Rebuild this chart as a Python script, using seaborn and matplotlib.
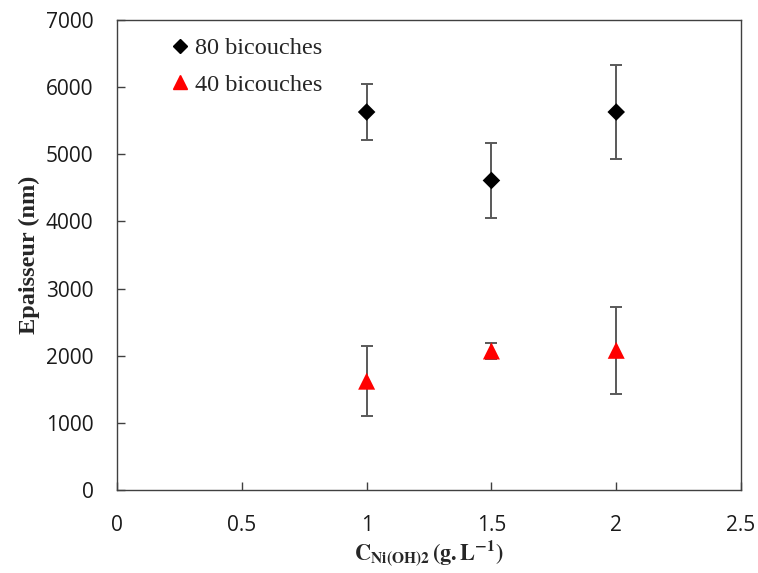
import matplotlib.pyplot as plt
import seaborn as sns
import pandas as pd
from matplotlib.lines import Line2D

conc = [1.0, 1.5, 2.0]
ep80 = [5630, 4610, 5630]
err80 = [410, 560, 700]
ep40 = [1620, 2070, 2080]
err40 = [520, 120, 645]

df = pd.DataFrame({
    'conc': conc + conc,
    'ep': ep80 + ep40,
    'err': err80 + err40,
    'serie': ['80 bicouches'] * 3 + ['40 bicouches'] * 3,
})

sns.set_style('ticks')
plt.rcParams['mathtext.fontset'] = 'stix'

fig = plt.figure(figsize=(7.58, 5.73), dpi=100)
ax = fig.add_axes([0.1544, 0.145, 0.8232, 0.82])

for s in df['serie'].unique():
    d = df[df['serie'] == s]
    ax.errorbar(d['conc'], d['ep'], yerr=d['err'], fmt='none', ecolor='#595959',
                elinewidth=1.4, capsize=4.5, capthick=1.4, zorder=1)

sns.scatterplot(data=df, x='conc', y='ep', hue='serie', style='serie', size='serie',
                palette={'80 bicouches': 'black', '40 bicouches': 'red'},
                markers={'80 bicouches': 'D', '40 bicouches': '^'},
                sizes={'80 bicouches': 80, '40 bicouches': 150},
                edgecolor='none', ax=ax, zorder=3, legend=False)

# legend handles drawn smaller, like the original
handles = [Line2D([], [], ls='none', marker='D', color='black', markersize=7.5),
           Line2D([], [], ls='none', marker='^', color='red', markersize=10)]
ax.legend(handles, ['80 bicouches', '40 bicouches'], loc='upper left',
          bbox_to_anchor=(0.043, 1.01), frameon=False,
          prop={'family': 'Liberation Serif', 'size': 17.5},
          handletextpad=0.0, handlelength=1.2, labelspacing=0.6)

ax.set_xlim(0, 2.5)
ax.set_ylim(0, 7000)
ax.set_xticks([0, 0.5, 1, 1.5, 2, 2.5])
ax.set_xticklabels(['0', '0.5', '1', '1.5', '2', '2.5'])
ax.set_yticks(range(0, 7001, 1000))
for lab in ax.get_xticklabels() + ax.get_yticklabels():
    lab.set_fontfamily('Open Sans')
    lab.set_fontsize(15)
    lab.set_color('#1a1a1a')
ax.tick_params(axis='both', direction='in', length=6, width=1, color='#404040')
ax.tick_params(axis='y', pad=17)
ax.tick_params(axis='x', pad=18)
for sp in ax.spines.values():
    sp.set_color('#404040')
    sp.set_linewidth(1)

ax.set_ylabel('Epaisseur (nm)', fontfamily='Liberation Serif', fontweight='bold',
              fontsize=17.5, labelpad=4)
ax.set_xlabel(r'$\mathbf{C_{Ni(OH)2}\,(g.L^{-1})}$', fontsize=16, labelpad=2)

fig.savefig('out.png', dpi=100)
